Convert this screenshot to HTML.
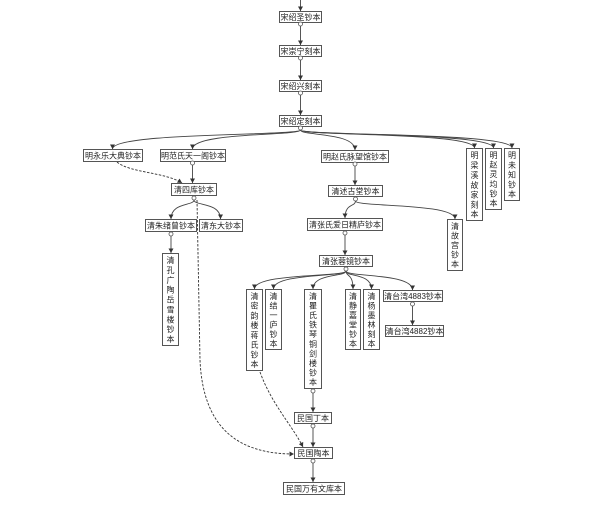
<!DOCTYPE html>
<html><head><meta charset="utf-8"><style>
html,body{margin:0;padding:0;background:#fff;}
svg{display:block;}
text{font-family:"Liberation Sans","Noto Sans CJK SC",sans-serif;font-size:8px;fill:#222;}
.b{fill:#fff;stroke:#555;stroke-width:1;}
.l{fill:none;stroke:#444;stroke-width:0.9;}
.d{fill:none;stroke:#333;stroke-width:0.9;stroke-dasharray:2.5,1.5;}
.c{fill:#fff;stroke:#555;stroke-width:0.8;}
</style></head><body>
<svg width="600" height="508" viewBox="0 0 600 508" xmlns="http://www.w3.org/2000/svg">
<defs>
<marker id="a" markerUnits="userSpaceOnUse" markerWidth="5" markerHeight="5" refX="4.5" refY="2.5" orient="auto">
<path d="M0,0 L4.5,2.5 L0,5 z" fill="#333"/>
</marker>
</defs>

<!-- straight connectors -->
<g class="l" marker-end="url(#a)">
<path d="M300.5,0 L300.5,11"/>
<path d="M300.5,26 L300.5,45"/>
<path d="M300.5,60 L300.5,80"/>
<path d="M300.5,95 L300.5,115"/>
<path d="M192.5,165 L192.5,183"/>
<path d="M355,166 L355,185"/>
<path d="M345,235 L345,255"/>
<path d="M171,236 L171,253"/>
<path d="M412.5,306 L412.5,325"/>
<path d="M313,393 L313,412"/>
<path d="M313,428 L313,447"/>
<path d="M313,463 L313,482"/>
</g>

<!-- fan curves -->
<g class="l" marker-end="url(#a)">
<path d="M300.5,130 C300.5,136 112.5,132 112.5,149"/>
<path d="M300.5,130 C300.5,136 192.5,132 192.5,149"/>
<path d="M300.5,130 C300.5,136 355,132 355,150"/>
<path d="M300.5,130 C300.5,136 474.5,132 474.5,148"/>
<path d="M300.5,130 C300.5,136 493.5,132 493.5,148"/>
<path d="M300.5,130 C300.5,136 512,132 512,148"/>

<path d="M194,200 C194,206 171,202 171,219"/>
<path d="M194,200 C194,206 220.5,202 220.5,219"/>

<path d="M355.5,201 C355.5,207 345,203 345,218"/>
<path d="M355.5,201 C355.5,207 455,203 455,219"/>

<path d="M346,271 C346,277 254.5,273 254.5,289"/>
<path d="M346,271 C346,277 273.5,273 273.5,289"/>
<path d="M346,271 C346,277 313,273 313,289"/>
<path d="M346,271 C346,277 353,273 353,289"/>
<path d="M346,271 C346,277 371.5,273 371.5,289"/>
<path d="M346,271 C346,277 412.5,273 412.5,290"/>
</g>

<!-- dashed -->
<g class="d" marker-end="url(#a)">
<path d="M117,162 C130,173 165,172 182,183"/>
<path d="M197,200 L200,360 C203,430 240,454 294,454"/>
<path d="M260,372 C272,405 292,425 303,447"/>
</g>

<!-- boxes -->
<rect class="b" x="279.5" y="11.5" width="42" height="11"/>
<text x="300.5" y="20" text-anchor="middle">宋绍圣钞本</text>
<rect class="b" x="279.5" y="45.5" width="42" height="11"/>
<text x="300.5" y="54" text-anchor="middle">宋崇宁刻本</text>
<rect class="b" x="279.5" y="80.5" width="42" height="11"/>
<text x="300.5" y="89" text-anchor="middle">宋绍兴刻本</text>
<rect class="b" x="279.5" y="115.5" width="42" height="11"/>
<text x="300.5" y="124" text-anchor="middle">宋绍定刻本</text>

<rect class="b" x="83.5" y="149.5" width="59" height="12"/>
<text x="113" y="158.5" text-anchor="middle">明永乐大典钞本</text>
<rect class="b" x="160.5" y="149.5" width="65" height="12"/>
<text x="193" y="158.5" text-anchor="middle">明范氏天一阁钞本</text>
<rect class="b" x="321.5" y="150.5" width="67" height="12"/>
<text x="355" y="159.5" text-anchor="middle">明赵氏脉望馆钞本</text>

<rect class="b" x="466.5" y="148.5" width="16" height="72"/>
<g text-anchor="middle">
<text x="474.5" y="158">明</text><text x="474.5" y="168">梁</text><text x="474.5" y="178">溪</text><text x="474.5" y="188">故</text><text x="474.5" y="197.5">家</text><text x="474.5" y="207.5">刻</text><text x="474.5" y="217">本</text>
</g>
<rect class="b" x="485.5" y="148.5" width="16" height="61"/>
<g text-anchor="middle">
<text x="493.5" y="158">明</text><text x="493.5" y="167.5">赵</text><text x="493.5" y="177.2">灵</text><text x="493.5" y="186.8">均</text><text x="493.5" y="196.5">钞</text><text x="493.5" y="206">本</text>
</g>
<rect class="b" x="504.5" y="148.5" width="15" height="52"/>
<g text-anchor="middle">
<text x="512" y="158">明</text><text x="512" y="168">未</text><text x="512" y="177.5">知</text><text x="512" y="187.5">钞</text><text x="512" y="197">本</text>
</g>

<rect class="b" x="171.5" y="183.5" width="45" height="12"/>
<text x="194" y="192.5" text-anchor="middle">清四库钞本</text>
<rect class="b" x="328.5" y="185.5" width="54" height="11"/>
<text x="355.5" y="194" text-anchor="middle">清述古堂钞本</text>

<rect class="b" x="145.5" y="219.5" width="51" height="12"/>
<text x="171" y="228.5" text-anchor="middle">清朱绪曾钞本</text>
<rect class="b" x="199.5" y="219.5" width="43" height="12"/>
<text x="221" y="228.5" text-anchor="middle">清东大钞本</text>
<rect class="b" x="307.5" y="218.5" width="75" height="12"/>
<text x="345" y="227.5" text-anchor="middle">清张氏爱日精庐钞本</text>

<rect class="b" x="447.5" y="219.5" width="15" height="51"/>
<g text-anchor="middle">
<text x="455" y="229">清</text><text x="455" y="238.5">故</text><text x="455" y="248">宫</text><text x="455" y="257.5">钞</text><text x="455" y="267">本</text>
</g>

<rect class="b" x="162.5" y="253.5" width="16" height="92"/>
<g text-anchor="middle">
<text x="170.5" y="263">清</text><text x="170.5" y="273">孔</text><text x="170.5" y="283">广</text><text x="170.5" y="292.5">陶</text><text x="170.5" y="302.5">岳</text><text x="170.5" y="312.5">雪</text><text x="170.5" y="322.5">楼</text><text x="170.5" y="332">钞</text><text x="170.5" y="342">本</text>
</g>

<rect class="b" x="319.5" y="255.5" width="53" height="11"/>
<text x="346" y="264" text-anchor="middle">清张蓉镜钞本</text>

<rect class="b" x="246.5" y="289.5" width="16" height="81"/>
<g text-anchor="middle">
<text x="254.5" y="299">清</text><text x="254.5" y="308.6">密</text><text x="254.5" y="318.4">韵</text><text x="254.5" y="328.1">楼</text><text x="254.5" y="337.9">蒋</text><text x="254.5" y="347.6">氏</text><text x="254.5" y="357.4">钞</text><text x="254.5" y="367.1">本</text>
</g>
<rect class="b" x="265.5" y="289.5" width="16" height="60"/>
<g text-anchor="middle">
<text x="273.5" y="298.8">清</text><text x="273.5" y="308.3">结</text><text x="273.5" y="317.8">一</text><text x="273.5" y="327.3">庐</text><text x="273.5" y="336.8">钞</text><text x="273.5" y="346.3">本</text>
</g>
<rect class="b" x="304.5" y="289.5" width="17" height="99"/>
<g text-anchor="middle">
<text x="313" y="298.8">清</text><text x="313" y="308.4">瞿</text><text x="313" y="318">氏</text><text x="313" y="327.6">铁</text><text x="313" y="337.2">琴</text><text x="313" y="346.8">铜</text><text x="313" y="356.4">剑</text><text x="313" y="366">楼</text><text x="313" y="375.6">钞</text><text x="313" y="385.2">本</text>
</g>
<rect class="b" x="345.5" y="289.5" width="15" height="60"/>
<g text-anchor="middle">
<text x="353" y="298.8">清</text><text x="353" y="308.3">静</text><text x="353" y="317.8">嘉</text><text x="353" y="327.3">堂</text><text x="353" y="336.8">钞</text><text x="353" y="346.3">本</text>
</g>
<rect class="b" x="363.5" y="289.5" width="16" height="60"/>
<g text-anchor="middle">
<text x="371.5" y="298.8">清</text><text x="371.5" y="308.3">杨</text><text x="371.5" y="317.8">墨</text><text x="371.5" y="327.3">林</text><text x="371.5" y="336.8">刻</text><text x="371.5" y="346.3">本</text>
</g>

<rect class="b" x="383.5" y="290.5" width="59" height="11"/>
<text x="413" y="299" text-anchor="middle">清台湾4883钞本</text>
<rect class="b" x="385.5" y="325.5" width="58" height="11"/>
<text x="414.5" y="334" text-anchor="middle">清台湾4882钞本</text>

<rect class="b" x="294.5" y="412.5" width="37" height="11"/>
<text x="313" y="421" text-anchor="middle">民国丁本</text>
<rect class="b" x="294.5" y="447.5" width="38" height="11"/>
<text x="313.5" y="456" text-anchor="middle">民国陶本</text>
<rect class="b" x="283.5" y="482.5" width="61" height="12"/>
<text x="314" y="491.5" text-anchor="middle">民国万有文库本</text>

<!-- circles -->
<g class="c">
<circle cx="300.5" cy="24" r="2"/>
<circle cx="300.5" cy="58" r="2"/>
<circle cx="300.5" cy="93" r="2"/>
<circle cx="300.5" cy="128" r="2"/>
<circle cx="192.5" cy="163" r="2"/>
<circle cx="355" cy="164" r="2"/>
<circle cx="194" cy="198" r="2"/>
<circle cx="355.5" cy="199" r="2"/>
<circle cx="345" cy="233" r="2"/>
<circle cx="171" cy="234" r="2"/>
<circle cx="346" cy="269" r="2"/>
<circle cx="412.5" cy="304" r="2"/>
<circle cx="313" cy="391" r="2"/>
<circle cx="313" cy="426" r="2"/>
<circle cx="313" cy="461" r="2"/>
</g>
</svg>
</body></html>
